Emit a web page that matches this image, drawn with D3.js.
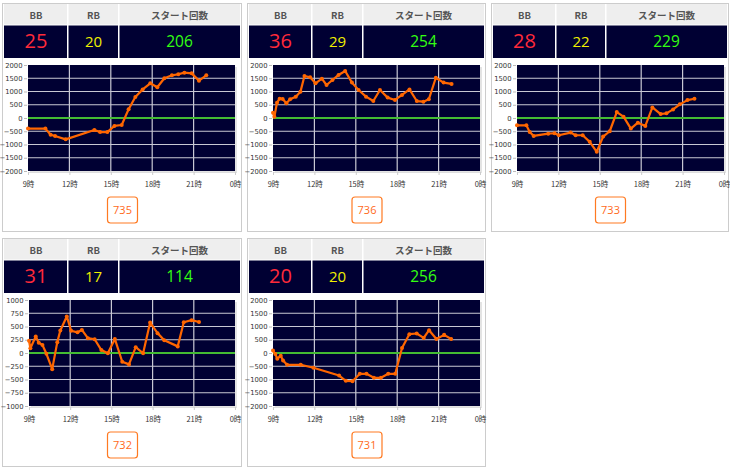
<!DOCTYPE html>
<html><head><meta charset="utf-8">
<script src="https://cdn.jsdelivr.net/npm/d3@7"></script>
<style>body{margin:0;background:#fff}svg{display:block}</style>
</head><body>
<script>
// ---- data ----
const machines = ["735","736","733","732","731"];
const bbCounts = [25,36,28,31,20];
const rbCounts = [20,29,22,17,20];
const startCounts = [206,254,229,114,256];
const yLimits = [2000,2000,2000,1000,2000];
const xTickHours = [9,12,15,18,21,24];
const xTickLabels = ["9時","12時","15時","18時","21時","0時"];
const headerLabels = ["BB","RB","スタート回数"];

const hours735 = [9.0,10.26,10.64,10.96,11.73,13.81,14.22,14.75,15.26,15.79,16.29,16.78,17.31,17.86,18.37,18.88,19.43,19.89,20.33,20.86,21.39,21.92];
const diff735  = [-400,-400,-630,-680,-805,-450,-530,-530,-300,-265,330,790,1080,1310,1160,1500,1610,1650,1710,1685,1410,1610];

const hours736 = [9.0,9.1,9.29,9.48,9.70,9.97,10.24,10.65,10.99,11.28,11.69,12.08,12.54,12.88,13.31,13.75,14.23,14.72,15.20,15.74,16.27,16.75,17.31,17.84,18.35,18.89,19.42,19.90,20.29,20.80,21.36,21.94];
const diff736  = [200,50,580,730,720,555,705,805,995,1585,1535,1310,1485,1245,1435,1625,1775,1335,1055,805,640,1055,770,680,870,1080,640,615,705,1520,1335,1285];

const hours733 = [9.0,9.68,9.92,10.21,11.26,11.72,12.03,12.88,13.25,13.76,14.27,14.78,15.24,15.72,16.23,16.72,17.25,17.76,18.30,18.81,19.41,19.83,20.31,20.80,21.35,21.86];
const diff733  = [-275,-275,-525,-675,-590,-575,-650,-550,-650,-650,-900,-1275,-700,-500,225,50,-400,-175,-300,400,150,175,325,515,675,725];

const hours732 = [9.0,9.1,9.49,9.71,9.98,10.27,10.69,11.06,11.28,11.75,12.07,12.53,12.85,13.29,13.78,14.27,14.74,15.25,15.79,16.28,16.77,17.31,17.82,18.36,18.85,19.83,20.27,20.84,21.38];
const diff732  = [230,90,310,195,150,-15,-305,205,425,690,420,390,435,280,260,55,-5,265,-165,-215,110,-5,575,375,240,125,580,620,585];

const hours731 = [9.0,9.17,9.31,9.56,9.73,10.02,11.01,11.93,13.79,14.28,14.76,15.29,15.77,16.31,16.82,17.35,17.86,18.35,18.88,19.41,19.92,20.31,20.84,21.40,21.91];
const diff731  = [90,-40,-215,-100,-280,-445,-445,-555,-850,-1050,-1065,-785,-785,-935,-935,-785,-785,190,710,735,570,860,530,685,530];

const seriesHours = [hours735,hours736,hours733,hours732,hours731];
const seriesDiff  = [diff735,diff736,diff733,diff732,diff731];

// ---- layout ----
const W = 730, H = 468;
const origins = [[2,3],[247,3],[491,3],[2,238],[247,238]];
const panelW = [240,239,238,240,239];
const panelH = 229;

const svg = d3.select("body").append("svg").attr("width",W).attr("height",H);

machines.forEach((m,i)=>{
  const [ox,oy] = origins[i];
  const pw = panelW[i];
  const g = svg.append("g").attr("transform",`translate(${ox},${oy})`);
  g.append("rect").attr("x",0.5).attr("y",0.5).attr("width",pw-1).attr("height",panelH-1)
    .attr("fill","#fff").attr("stroke","#cccccc");

  // table
  const tx = 2, tw = pw-4;
  const colW = [Math.round(tw*0.27), Math.round(tw*0.215)];
  colW.push(tw-colW[0]-colW[1]);
  const colX = [tx, tx+colW[0], tx+colW[0]+colW[1]];
  g.append("rect").attr("x",tx).attr("y",1).attr("width",tw).attr("height",21).attr("fill","#eeeeee");
  g.append("rect").attr("x",tx).attr("y",22).attr("width",tw).attr("height",33).attr("fill","#000033");
  [1,2].forEach(k=>{
    g.append("rect").attr("x",colX[k]-1).attr("y",1).attr("width",1.5).attr("height",54).attr("fill","#ffffff");
  });
  g.append("rect").attr("x",tx).attr("y",21.5).attr("width",tw).attr("height",1).attr("fill","#ffffff");
  headerLabels.forEach((t,k)=>{
    g.append("text").attr("x",colX[k]+colW[k]/2).attr("y",15.5).attr("text-anchor","middle")
      .attr("font-family","'Noto Sans CJK JP','Noto Sans',sans-serif").attr("font-size",9.5)
      .attr("font-weight","bold").attr("fill","#555").text(t);
  });
  const vals = [bbCounts[i], rbCounts[i], startCounts[i]];
  const cols = ["#ff2a3a","#f0f000","#33ff11"];
  const sizes = [20,15,15.5];
  vals.forEach((v,k)=>{
    g.append("text").attr("x",colX[k]+colW[k]/2).attr("y",k===0?45:44).attr("text-anchor","middle")
      .attr("font-family","'Open Sans','Noto Sans',sans-serif").attr("font-size",sizes[k])
      .attr("fill",cols[k]).text(v);
  });

  // chart
  const px0 = i===3?27:26, px1 = 233, py0 = 62, py1 = 168;
  const x = d3.scaleLinear().domain([9,24]).range([px0,px1]);
  const y = d3.scaleLinear().domain([-yLimits[i],yLimits[i]]).range([py1,py0]);
  g.append("rect").attr("x",px0+2).attr("y",py0+2).attr("width",px1-px0).attr("height",py1-py0).attr("fill","#e4e4e4");
  g.append("rect").attr("x",px0).attr("y",py0).attr("width",px1-px0).attr("height",py1-py0).attr("fill","#000033");
  const yt = d3.range(-yLimits[i], yLimits[i]+1, yLimits[i]/4);
  g.selectAll(null).data(yt.filter(v=>v!==0 && Math.abs(v)!==yLimits[i])).join("line")
    .attr("x1",px0).attr("x2",px1).attr("y1",d=>y(d)).attr("y2",d=>y(d))
    .attr("stroke","#c8c8d4").attr("stroke-width",1.2);
  g.selectAll(null).data(xTickHours.slice(1,-1)).join("line")
    .attr("x1",d=>x(d)).attr("x2",d=>x(d)).attr("y1",py0).attr("y2",py1)
    .attr("stroke","#c8c8d4").attr("stroke-width",1.2);
  g.append("line").attr("x1",px0).attr("x2",px1).attr("y1",y(0)).attr("y2",y(0))
    .attr("stroke","#44bb33").attr("stroke-width",2);

  const yAxis = d3.axisLeft(y).tickValues(yt).tickFormat(d3.format("d")).tickSize(3).tickPadding(1.5);
  const ya = g.append("g").attr("transform",`translate(${px0-1},0)`).call(yAxis);
  ya.select(".domain").remove();
  ya.selectAll("line").attr("stroke","#bbb");
  ya.selectAll("text").attr("font-family","'DejaVu Sans',sans-serif").attr("font-size",6.8).attr("fill","#333");
  const xAxis = d3.axisBottom(x).tickValues(xTickHours).tickFormat((d,k)=>xTickLabels[k]).tickSize(3).tickPadding(7);
  const xa = g.append("g").attr("transform",`translate(0,${py1+1})`).call(xAxis);
  xa.select(".domain").attr("stroke","#ddd");
  xa.selectAll("line").attr("stroke","#ccc");
  xa.selectAll("text").attr("font-family","'Noto Sans CJK JP',sans-serif").attr("font-size",7.5).attr("fill","#333");

  const hs = seriesHours[i], ds = seriesDiff[i];
  const pts = hs.map((h,k)=>[h,ds[k]]);
  g.append("path").datum(pts).attr("fill","none").attr("stroke","#ff6600").attr("stroke-width",2.2)
    .attr("stroke-linejoin","round")
    .attr("d",d3.line().x(d=>x(d[0])).y(d=>y(d[1])));
  g.selectAll(null).data(pts).join("circle").attr("cx",d=>x(d[0])).attr("cy",d=>y(d[1])).attr("r",2)
    .attr("fill","#ff6600");

  const bw = 30, bh = 26, bx = pw/2 - bw/2 + 0.5, by = 194;
  g.append("rect").attr("x",bx).attr("y",by).attr("width",bw).attr("height",bh).attr("rx",3)
    .attr("fill","#fff").attr("stroke","#ff7a22").attr("stroke-width",1.2);
  g.append("text").attr("x",bx+bw/2).attr("y",by+17).attr("text-anchor","middle")
    .attr("font-family","'Open Sans','Noto Sans',sans-serif").attr("font-size",11).attr("fill","#ff6a1a").text(m);
});
</script>
</body></html>
